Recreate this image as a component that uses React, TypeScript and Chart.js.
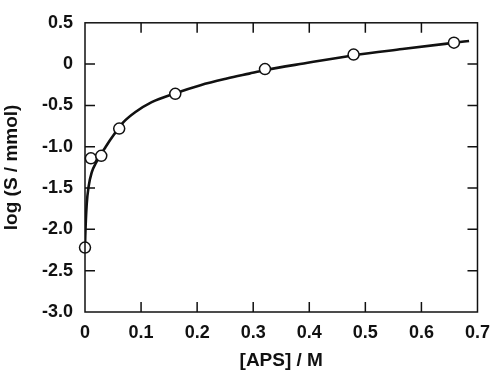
import React, { useEffect, useRef } from "react";
import { Chart, registerables } from "chart.js";

Chart.register(...registerables);

// Measured points
const apsConc = [0.0, 0.0105, 0.029, 0.061, 0.161, 0.321, 0.479, 0.658];
const logS = [-2.22, -1.14, -1.11, -0.78, -0.36, -0.06, 0.115, 0.26];

// Fitted curve
const fitX = [0.0, 0.0005, 0.003, 0.0065, 0.012, 0.02, 0.037, 0.052, 0.069, 0.09, 0.119, 0.16, 0.206, 0.253, 0.293, 0.32, 0.39, 0.48, 0.566, 0.658, 0.685];
const fitY = [-2.22, -2.08, -1.7, -1.48, -1.31, -1.19, -1.0, -0.85, -0.7, -0.58, -0.46, -0.355, -0.255, -0.175, -0.115, -0.075, 0.008, 0.108, 0.182, 0.258, 0.28];

const xTickValues = [0, 0.1, 0.2, 0.3, 0.4, 0.5, 0.6, 0.7];
const xTickLabels = ["0", "0.1", "0.2", "0.3", "0.4", "0.5", "0.6", "0.7"];
const yTickValues = [-3, -2.5, -2, -1.5, -1, -0.5, 0, 0.5];
const yTickLabels = ["-3.0", "-2.5", "-2.0", "-1.5", "-1.0", "-0.5", "0", "0.5"];

const xTitle = "[APS] / M";
const yTitle = "log (S / mmol)";

const FONT = "'Liberation Sans', Arial, Helvetica, sans-serif";
const INK = "#111";

const frameTicks = {
  id: "frameTicks",
  afterDatasetsDraw(chart: any) {
    const { ctx, chartArea: a, scales } = chart;
    const xs = scales.x;
    const ys = scales.y;
    const len = 10;
    ctx.save();
    ctx.strokeStyle = INK;
    ctx.lineWidth = 1.5;
    ctx.strokeRect(a.left, a.top, a.right - a.left, a.bottom - a.top);
    ctx.beginPath();
    xTickValues.forEach((v) => {
      if (v <= xs.min || v >= xs.max) return;
      const px = xs.getPixelForValue(v);
      ctx.moveTo(px, a.bottom);
      ctx.lineTo(px, a.bottom - len);
      ctx.moveTo(px, a.top);
      ctx.lineTo(px, a.top + len);
    });
    yTickValues.forEach((v) => {
      if (v <= ys.min || v >= ys.max) return;
      const py = ys.getPixelForValue(v);
      ctx.moveTo(a.left, py);
      ctx.lineTo(a.left + len, py);
      ctx.moveTo(a.right, py);
      ctx.lineTo(a.right - len, py);
    });
    ctx.stroke();
    ctx.restore();
  },
};

export default function App() {
  const ref = useRef<HTMLCanvasElement | null>(null);
  useEffect(() => {
    if (!ref.current) return;
    const chart = new Chart(ref.current, {
      type: "scatter",
      data: {
        datasets: [
          {
            label: "data",
            data: apsConc.map((x, i) => ({ x, y: logS[i] })),
            showLine: false,
            pointRadius: 5.5,
            pointBorderWidth: 1.5,
            pointBackgroundColor: "#fff",
            pointBorderColor: INK,
            clip: false as any,
          },
          {
            label: "fit",
            data: fitX.map((x, i) => ({ x, y: fitY[i] })),
            showLine: true,
            borderColor: INK,
            borderWidth: 2.6,
            pointRadius: 0,
            cubicInterpolationMode: "monotone",
          } as any,
        ],
      },
      options: {
        animation: false,
        responsive: false,
        maintainAspectRatio: false,
        layout: { padding: { top: 11, right: 13, left: 0, bottom: 0 } },
        plugins: { legend: { display: false }, tooltip: { enabled: false } },
        scales: {
          x: {
            type: "linear",
            min: 0,
            max: 0.7,
            afterFit: (s: any) => {
              s.height = 62;
            },
            afterBuildTicks: (s: any) => {
              s.ticks = xTickValues.map((v) => ({ value: v }));
            },
            grid: { display: false, drawTicks: false },
            border: { display: false },
            ticks: {
              padding: 10,
              color: INK,
              font: { family: FONT, size: 18, weight: "bold" },
              callback: (v: any) => {
                const i = xTickValues.findIndex((t) => Math.abs(t - v) < 1e-9);
                return i >= 0 ? xTickLabels[i] : "";
              },
              maxRotation: 0,
              autoSkip: false,
            },
            title: {
              display: true,
              text: xTitle,
              color: INK,
              font: { family: FONT, size: 19, weight: "bold" },
              padding: { top: 0, bottom: 2 },
            },
          },
          y: {
            type: "linear",
            min: -3,
            max: 0.5,
            afterFit: (s: any) => {
              s.width = 85;
            },
            afterBuildTicks: (s: any) => {
              s.ticks = yTickValues.map((v) => ({ value: v }));
            },
            grid: { display: false, drawTicks: false },
            border: { display: false },
            ticks: {
              padding: 12,
              color: INK,
              font: { family: FONT, size: 18, weight: "bold" },
              callback: (v: any) => {
                const i = yTickValues.findIndex((t) => Math.abs(t - v) < 1e-9);
                return i >= 0 ? yTickLabels[i] : "";
              },
              autoSkip: false,
            },
            title: {
              display: true,
              text: yTitle,
              color: INK,
              font: { family: FONT, size: 19, weight: "bold" },
              padding: { top: 0, bottom: 0 },
            },
          },
        },
      },
      plugins: [frameTicks],
    });
    return () => chart.destroy();
  }, []);
  return (
    <div style={{ position: "fixed", left: 0, top: 0, width: 500, height: 374, background: "#fff" }}>
      <canvas ref={ref} width={500} height={374} style={{ display: "block", width: 500, height: 374 }} />
    </div>
  );
}
